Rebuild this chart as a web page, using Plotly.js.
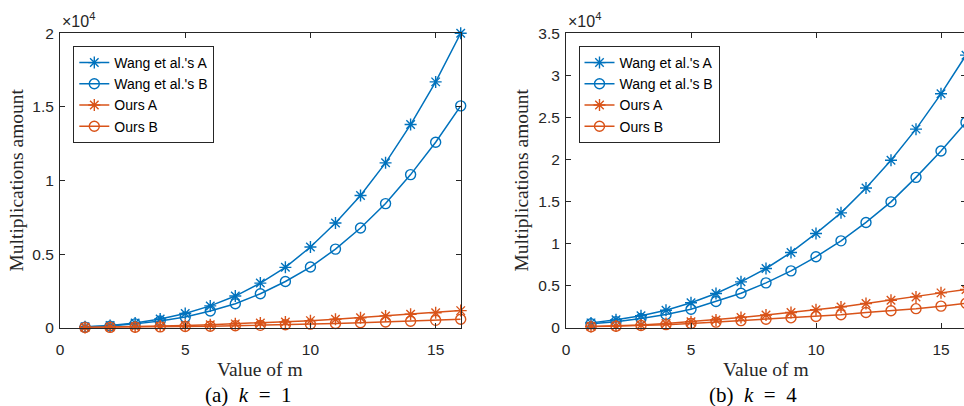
<!DOCTYPE html>
<html>
<head>
<meta charset="utf-8">
<script src="https://cdn.plot.ly/plotly-3.0.1.min.js"></script>
<style>
  html, body { margin: 0; padding: 0; overflow: hidden; background: #ffffff; }
  #chart { width: 970px; height: 406px; }
</style>
</head>
<body>
<div id="chart"></div>
<script>
// ---- data ----
const m = [1, 2, 3, 4, 5, 6, 7, 8, 9, 10, 11, 12, 13, 14, 15, 16];

// (a) k = 1
const wangA_k1 = [60, 150, 320, 590, 960, 1480, 2150, 3030, 4100, 5480, 7110, 8980, 11200, 13800, 16700, 20000];
const wangB_k1 = [40, 110, 260, 460, 720, 1130, 1630, 2310, 3140, 4120, 5340, 6770, 8430, 10400, 12600, 15070];
const oursA_k1 = [15, 40, 70, 110, 150, 200, 260, 320, 390, 480, 570, 680, 800, 910, 1020, 1160];
const oursB_k1 = [8, 20, 35, 55, 80, 100, 130, 160, 200, 240, 290, 340, 390, 440, 500, 570];

// (b) k = 4
const wangA_k4 = [550, 910, 1400, 2060, 2940, 4050, 5430, 7020, 8930, 11190, 13640, 16600, 19900, 23600, 27800, 32400];
const wangB_k4 = [440, 690, 1070, 1550, 2180, 3090, 4080, 5310, 6740, 8410, 10310, 12500, 14950, 17860, 21000, 24400];
const oursA_k4 = [120, 190, 300, 480, 690, 900, 1200, 1480, 1780, 2120, 2450, 2860, 3250, 3640, 4120, 4520];
const oursB_k4 = [80, 140, 230, 340, 480, 640, 820, 980, 1150, 1300, 1520, 1780, 2000, 2240, 2540, 2880];

const seriesNames = ["Wang et al.'s A", "Wang et al.'s B", "Ours A", "Ours B"];

const xTickVals = [0, 5, 10, 15];
const xTickText = ['0', '5', '10', '15'];
const yTickVals_k1 = [0, 5000, 10000, 15000, 20000];
const yTickText_k1 = ['0', '0.5', '1', '1.5', '2'];
const yTickVals_k4 = [0, 5000, 10000, 15000, 20000, 25000, 30000, 35000];
const yTickText_k4 = ['0', '0.5', '1', '1.5', '2', '2.5', '3', '3.5'];

const xTitle = 'Value of m';
const yTitle = 'Multiplications amount';
const captionA = '(a)&nbsp;&nbsp;<i>k</i>&nbsp;&nbsp;=&nbsp;&nbsp;1';
const captionB = '(b)&nbsp;&nbsp;<i>k</i>&nbsp;&nbsp;=&nbsp;&nbsp;4';
const exponentLabel = '×10<sup>4</sup>';

// ---- styling ----
const W = 970, H = 406;
const fx = p => p / W;
const fy = p => 1 - p / H;
const BLUE = '#0072BD', ORANGE = '#D95319', AXC = '#262626';
const SANS = 'Liberation Sans, Arial, sans-serif';
const SERIF = 'Liberation Serif, Times New Roman, serif';

function mk(y, name, color, symbol, xa, ya, legend) {
  return {
    x: m, y: y, name: name, type: 'scatter', mode: 'lines+markers',
    xaxis: xa, yaxis: ya, legend: legend, cliponaxis: false,
    line: { color: color, width: 1.5 },
    marker: { symbol: symbol, size: 10, color: color, line: { color: color, width: 1.4 } }
  };
}

const traces = [
  mk(wangA_k1, seriesNames[0], BLUE, 'asterisk-open', 'x', 'y', 'legend'),
  mk(wangB_k1, seriesNames[1], BLUE, 'circle-open', 'x', 'y', 'legend'),
  mk(oursA_k1, seriesNames[2], ORANGE, 'asterisk-open', 'x', 'y', 'legend'),
  mk(oursB_k1, seriesNames[3], ORANGE, 'circle-open', 'x', 'y', 'legend'),
  mk(wangA_k4, seriesNames[0], BLUE, 'asterisk-open', 'x2', 'y2', 'legend2'),
  mk(wangB_k4, seriesNames[1], BLUE, 'circle-open', 'x2', 'y2', 'legend2'),
  mk(oursA_k4, seriesNames[2], ORANGE, 'asterisk-open', 'x2', 'y2', 'legend2'),
  mk(oursB_k4, seriesNames[3], ORANGE, 'circle-open', 'x2', 'y2', 'legend2')
];

function axisBase() {
  return {
    showline: true, linecolor: AXC, linewidth: 1, mirror: 'ticks',
    ticks: 'inside', ticklen: 5, tickwidth: 1, tickcolor: AXC,
    showgrid: false, zeroline: false,
    tickfont: { family: SANS, size: 15.5, color: AXC }
  };
}

const xa1 = Object.assign(axisBase(), { domain: [fx(60), fx(460.7)], range: [0, 16], tickvals: xTickVals, ticktext: xTickText, anchor: 'y', ticklabelstandoff: 8 });
const xa2 = Object.assign(axisBase(), { domain: [fx(566), fx(966)], range: [0, 16], tickvals: xTickVals, ticktext: xTickText, anchor: 'y2', ticklabelstandoff: 8 });
const ya1 = Object.assign(axisBase(), { domain: [fy(327.7), fy(33.3)], range: [0, 20000], tickvals: yTickVals_k1, ticktext: yTickText_k1, anchor: 'x', ticklabelstandoff: 2 });
const ya2 = Object.assign(axisBase(), { domain: [fy(327.5), fy(33.3)], range: [0, 35000], tickvals: yTickVals_k4, ticktext: yTickText_k4, anchor: 'x2', ticklabelstandoff: 2 });

function legendAt(px, py) {
  return {
    x: fx(px), y: fy(py), xanchor: 'left', yanchor: 'top',
    bgcolor: '#ffffff', bordercolor: AXC, borderwidth: 1,
    font: { family: SANS, size: 14, color: '#000000' },
    tracegroupgap: 0, itemwidth: 30
  };
}

function ann(text, px, py, opts) {
  return Object.assign({
    text: text, xref: 'paper', yref: 'paper', x: fx(px), y: fy(py),
    showarrow: false, xanchor: 'center', yanchor: 'middle'
  }, opts || {});
}

const annotations = [
  ann(exponentLabel, 60, 32, { xanchor: 'left', yanchor: 'bottom', font: { family: SANS, size: 16, color: AXC } }),
  ann(exponentLabel, 566, 32, { xanchor: 'left', yanchor: 'bottom', font: { family: SANS, size: 16, color: AXC } }),
  ann(yTitle, 16, 180.5, { textangle: -90, font: { family: SERIF, size: 19.5, color: AXC } }),
  ann(yTitle, 521, 180.5, { textangle: -90, font: { family: SERIF, size: 19.5, color: AXC } }),
  ann(xTitle, 260.3, 369, { font: { family: SERIF, size: 19.5, color: AXC } }),
  ann(xTitle, 765.5, 369, { font: { family: SERIF, size: 19.5, color: AXC } }),
  ann(captionA, 202.7, 395, { xanchor: 'left', font: { family: SERIF, size: 21, color: '#000000' } }),
  ann(captionB, 706.7, 395, { xanchor: 'left', font: { family: SERIF, size: 21, color: '#000000' } })
];

const layout = {
  width: W, height: H,
  margin: { l: 0, r: 0, t: 0, b: 0 },
  paper_bgcolor: '#ffffff', plot_bgcolor: '#ffffff',
  showlegend: true,
  xaxis: xa1, yaxis: ya1, xaxis2: xa2, yaxis2: ya2,
  legend: legendAt(73.3, 46),
  legend2: legendAt(578.5, 46),
  annotations: annotations
};

Plotly.newPlot('chart', traces, layout, { displayModeBar: false, staticPlot: true });
</script>
</body>
</html>
